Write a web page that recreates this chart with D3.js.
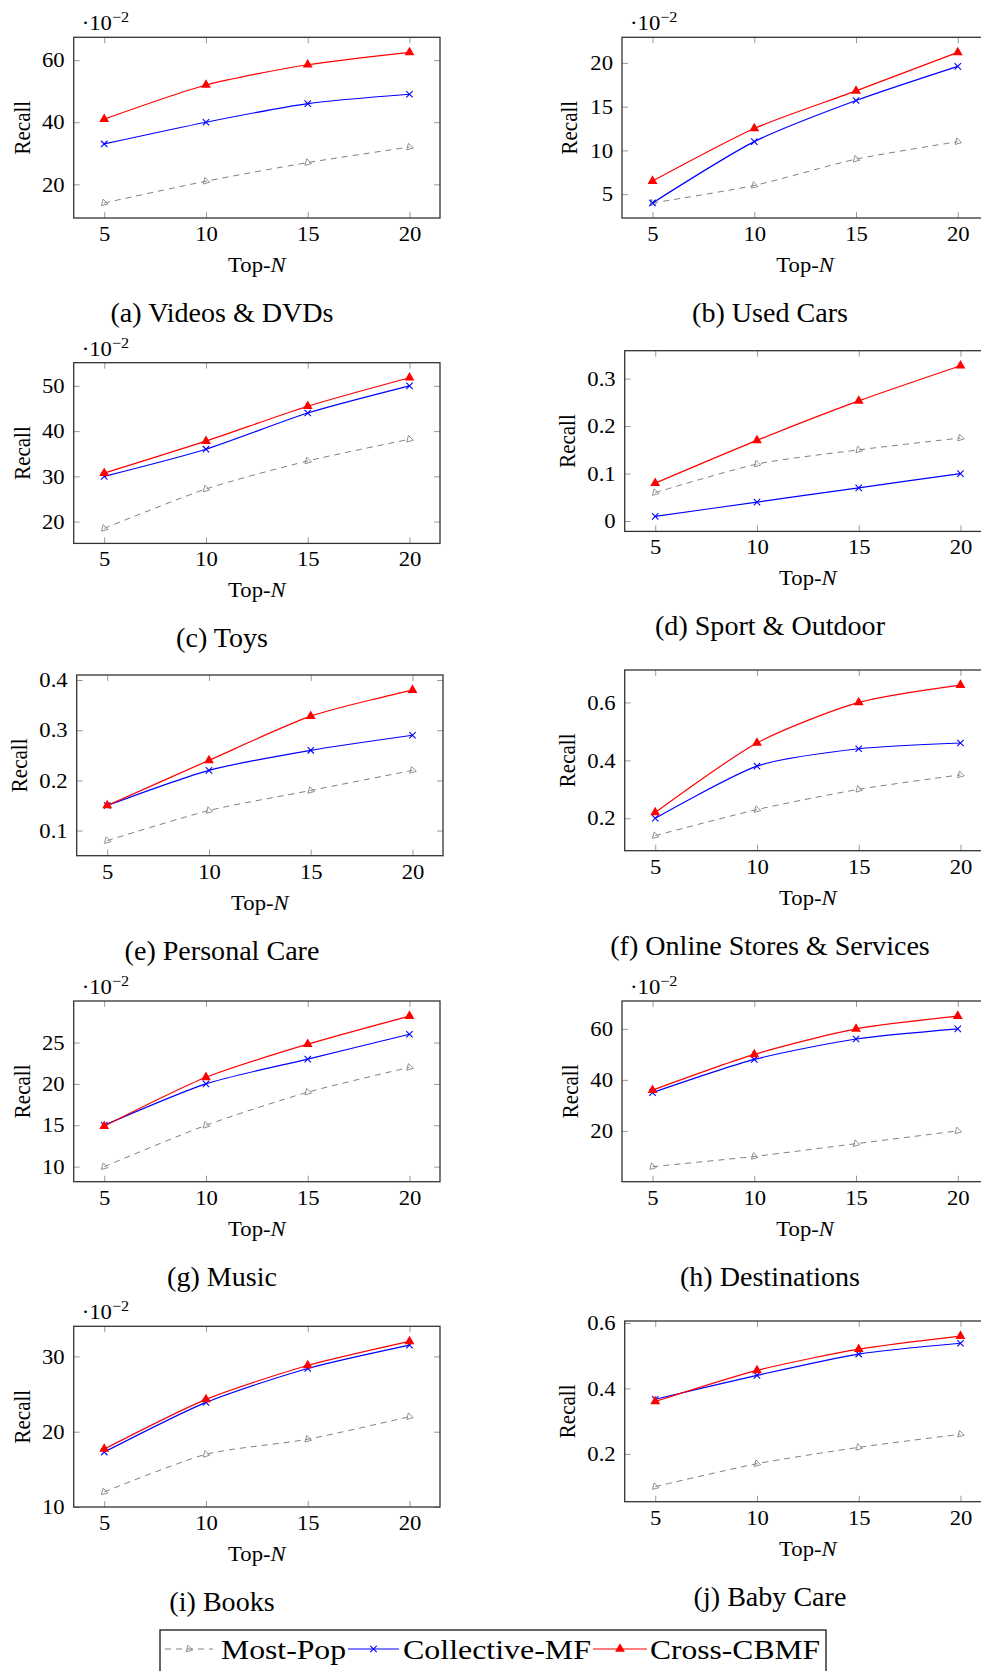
<!DOCTYPE html>
<html>
<head>
<meta charset="utf-8">
<script src="https://cdn.jsdelivr.net/npm/d3@7"></script>
<style>
  body { margin: 0; background: #fff; }
  svg { display: block; }
  text { font-family: "Liberation Serif", "Times New Roman", serif; fill: #000; }
</style>
</head>
<body>
<div id="chart"></div>
<script>
// Data (recall values)
const topN = [5, 10, 15, 20];
const seriesNames = ["Most-Pop", "Collective-MF", "Cross-CBMF"];
const panelTitles = [
  "(a) Videos & DVDs", "(b) Used Cars", "(c) Toys", "(d) Sport & Outdoor",
  "(e) Personal Care", "(f) Online Stores & Services", "(g) Music",
  "(h) Destinations", "(i) Books", "(j) Baby Care"
];
const mostPop = [
  [14, 21, 27, 32],
  [4, 6, 9, 11],
  [18.5, 27.2, 33.4, 38.2],
  [0.06, 0.12, 0.15, 0.175],
  [0.08, 0.14, 0.18, 0.22],
  [0.14, 0.23, 0.30, 0.35],
  [10, 15, 19, 22],
  [6, 10, 15, 20],
  [12, 17, 19, 22],
  [0.10, 0.17, 0.22, 0.26]
];
const collectiveMF = [
  [33, 40, 46, 49],
  [4, 11, 15.7, 19.6],
  [30, 36, 44, 50],
  [0.01, 0.04, 0.07, 0.10],
  [0.15, 0.22, 0.26, 0.29],
  [0.20, 0.38, 0.44, 0.46],
  [15, 20, 23, 26],
  [35, 48, 56, 60],
  [17.3, 23.9, 28.4, 31.5],
  [0.367, 0.44, 0.505, 0.538]
];
const crossCBMF = [
  [41, 52, 58.5, 62.5],
  [6.5, 12.5, 16.8, 21.2],
  [30.7, 37.8, 45.5, 51.8],
  [0.08, 0.17, 0.253, 0.327],
  [0.15, 0.24, 0.328, 0.38],
  [0.22, 0.46, 0.60, 0.66],
  [14.9, 20.8, 24.8, 28.2],
  [36, 50, 60, 65],
  [17.7, 24.3, 28.8, 32.0],
  [0.36, 0.455, 0.52, 0.56]
];
const yTicks = [
  [20, 40, 60],
  [5, 10, 15, 20],
  [20, 30, 40, 50],
  [0, 0.1, 0.2, 0.3],
  [0.1, 0.2, 0.3, 0.4],
  [0.2, 0.4, 0.6],
  [10, 15, 20, 25],
  [20, 40, 60],
  [10, 20, 30],
  [0.2, 0.4, 0.6]
];
// panels whose values are given in units of 10^-2
const scaledPanels = [true, true, true, false, false, false, true, true, true, false];

// Layout
const width = 981;
const height = 1671;
const plotW = 366.3;
const plotH = 180.7;
const captionX = [222, 770];
const stretch = 1.08; // the source figure is slightly wider than tall
const panelLayout = [
  { left: 73.7, top: 37.3, labelGap: 44 },
  { left: 622, top: 37.3, labelGap: 45 },
  { left: 73.7, top: 362.7, labelGap: 44 },
  { left: 624.7, top: 350.7, labelGap: 50 },
  { left: 76.7, top: 675, labelGap: 50 },
  { left: 624.7, top: 670, labelGap: 50 },
  { left: 73.7, top: 1001, labelGap: 44 },
  { left: 622, top: 1001, labelGap: 44 },
  { left: 73.7, top: 1326.3, labelGap: 44 },
  { left: 624.7, top: 1321, labelGap: 50 }
];

const seriesStyle = [
  { values: mostPop, color: "#808080", dash: "6,5", width: 1, marker: "open" },
  { values: collectiveMF, color: "#0000ff", dash: null, width: 1.2, marker: "x" },
  { values: crossCBMF, color: "#ff0000", dash: null, width: 1.2, marker: "tri" }
];

const svg = d3
  .select("#chart")
  .append("svg")
  .attr("width", width)
  .attr("height", height);

const triFilled = d3.symbol(d3.symbolTriangle, 42);
const triOpen = d3.symbol(d3.symbolTriangle, 20);

function drawMarker(g, type, color, cx, cy) {
  if (type === "tri") {
    g.append("path")
      .attr("d", triFilled())
      .attr("transform", `translate(${cx},${cy})`)
      .attr("fill", color);
  } else if (type === "open") {
    g.append("path")
      .attr("d", triOpen())
      .attr("transform", `translate(${cx},${cy}) rotate(-15)`)
      .attr("fill", "none")
      .attr("stroke", color)
      .attr("stroke-width", 0.8);
  } else {
    const s = 3.2;
    g.append("path")
      .attr("d", `M${cx - s},${cy - s}L${cx + s},${cy + s}M${cx - s},${cy + s}L${cx + s},${cy - s}`)
      .attr("stroke", color)
      .attr("stroke-width", 1.1);
  }
}

const xExt = d3.extent(topN);
const xPad = (xExt[1] - xExt[0]) * 0.1;

panelTitles.forEach((title, i) => {
  const lay = panelLayout[i];
  const g = svg.append("g").attr("transform", `translate(${lay.left},${lay.top})`);

  const all = [...mostPop[i], ...collectiveMF[i], ...crossCBMF[i]];
  const yExt = d3.extent(all);
  const yPad = (yExt[1] - yExt[0]) * 0.1;

  const x = d3.scaleLinear().domain([xExt[0] - xPad, xExt[1] + xPad]).range([0, plotW]);
  const y = d3.scaleLinear().domain([yExt[0] - yPad, yExt[1] + yPad]).range([plotH, 0]);

  // Axes (inward ticks on all four sides)
  const fmt = d3.format("~g");
  const styleAxis = (sel) => {
    sel.select(".domain").remove();
    sel.selectAll(".tick line").attr("stroke", "#9a9a9a").attr("stroke-width", 1);
    sel.selectAll(".tick text")
      .attr("font-size", 21)
      .attr("fill", "#000");
  };
  g.append("g")
    .attr("transform", `translate(0,${plotH})`)
    .call(d3.axisBottom(x).tickValues(topN).tickSize(-6).tickPadding(8))
    .call(styleAxis)
    .selectAll(".tick text")
    .attr("transform", `scale(${stretch},1)`);
  g.append("g")
    .call(d3.axisTop(x).tickValues(topN).tickSize(-6).tickFormat(""))
    .call(styleAxis);
  g.append("g")
    .call(d3.axisLeft(y).tickValues(yTicks[i]).tickSize(-6).tickPadding(9).tickFormat(fmt))
    .call(styleAxis)
    .selectAll(".tick text")
    .attr("x", -9 / stretch)
    .attr("transform", `scale(${stretch},1)`);
  g.append("g")
    .attr("transform", `translate(${plotW},0)`)
    .call(d3.axisRight(y).tickValues(yTicks[i]).tickSize(-6).tickFormat(""))
    .call(styleAxis);

  // Frame
  g.append("rect")
    .attr("width", plotW)
    .attr("height", plotH)
    .attr("fill", "none")
    .attr("stroke", "#333")
    .attr("stroke-width", 1.3);

  // Lines + markers
  const line = d3
    .line()
    .x((d, k) => x(topN[k]))
    .y((d) => y(d))
    .curve(d3.curveCardinal.tension(0.3));

  seriesStyle.forEach((s) => {
    const vals = s.values[i];
    g.append("path")
      .attr("d", line(vals))
      .attr("fill", "none")
      .attr("stroke", s.color)
      .attr("stroke-width", s.width)
      .attr("stroke-dasharray", s.dash);
    vals.forEach((v, k) => drawMarker(g, s.marker, s.color, x(topN[k]), y(v)));
  });

  // Axis labels
  g.append("text")
    .attr("transform", `translate(${plotW / 2},${plotH + 54}) scale(${stretch},1)`)
    .attr("text-anchor", "middle")
    .attr("font-size", 21)
    .call((t) => {
      t.append("tspan").text("Top-");
      t.append("tspan").attr("font-style", "italic").text("N");
    });
  g.append("text")
    .attr("transform", `translate(${-lay.labelGap},${plotH / 2}) rotate(-90) scale(1,${stretch})`)
    .attr("text-anchor", "middle")
    .attr("font-size", 21)
    .text("Recall");

  // Exponent marker
  if (scaledPanels[i]) {
    const t = g.append("text")
      .attr("transform", `translate(8,-7) scale(${stretch},1)`)
      .attr("font-size", 21);
    t.append("tspan").text("·10");
    t.append("tspan").attr("font-size", 15).attr("dy", -8).text("−2");
  }

  // Caption
  svg.append("text")
    .attr("transform", `translate(${captionX[i % 2]},${lay.top + plotH + 104}) scale(1.04,1)`)
    .attr("text-anchor", "middle")
    .attr("font-size", 27)
    .text(title);
});

// Legend
const legend = svg.append("g");
legend.append("rect")
  .attr("x", 160)
  .attr("y", 1630)
  .attr("width", 666)
  .attr("height", 70)
  .attr("fill", "#fff")
  .attr("stroke", "#000")
  .attr("stroke-width", 1.2);

const legendItems = [
  { lineX: [165, 213], textX: 221, textLen: 125 },
  { lineX: [348, 399], textX: 403, textLen: 188 },
  { lineX: [593, 647], textX: 650, textLen: 170 }
];
const legendY = 1649;
seriesNames.forEach((name, k) => {
  const s = seriesStyle[k];
  const it = legendItems[k];
  legend.append("line")
    .attr("x1", it.lineX[0])
    .attr("x2", it.lineX[1])
    .attr("y1", legendY)
    .attr("y2", legendY)
    .attr("stroke", s.color)
    .attr("stroke-width", s.width)
    .attr("stroke-dasharray", s.dash);
  drawMarker(legend, s.marker, s.color, (it.lineX[0] + it.lineX[1]) / 2, legendY);
  legend.append("text")
    .attr("x", it.textX)
    .attr("y", 1659)
    .attr("font-size", 28)
    .attr("textLength", it.textLen)
    .attr("lengthAdjust", "spacingAndGlyphs")
    .text(name);
});
</script>
</body>
</html>
